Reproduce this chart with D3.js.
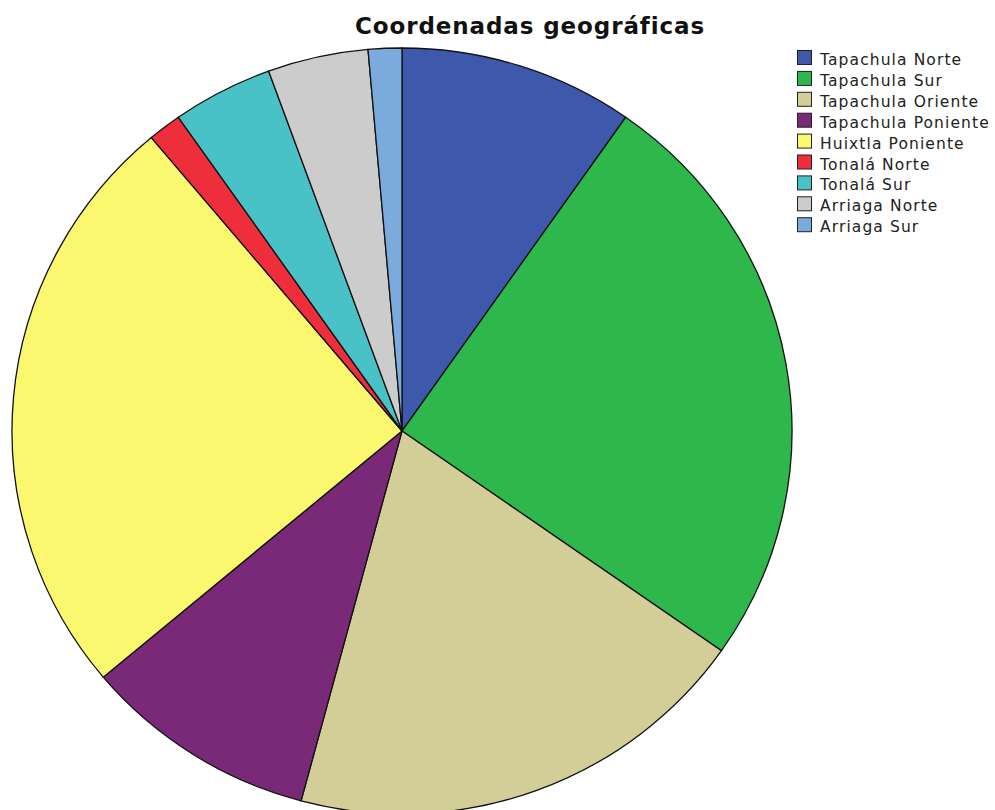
<!DOCTYPE html>
<html><head><meta charset="utf-8">
<script src="https://cdn.jsdelivr.net/npm/d3@7"></script>
<style>body{margin:0;background:#fff}svg{display:block}</style>
</head><body>
<svg id="c" width="995" height="810"></svg>
<script>
const categories = ["Tapachula Norte","Tapachula Sur","Tapachula Oriente","Tapachula Poniente","Huixtla Poniente","Tonalá Norte","Tonalá Sur","Arriaga Norte","Arriaga Sur"];
const counts = [7,18,14,7,18,1,3,3,1];
const colors = ["#3e58ac","#2eb84b","#d3ce98","#7a2878","#fbf76f","#ee2e3a","#48c1c7","#cccccc","#7babdc"];
const title = "Coordenadas geográficas";

const svg = d3.select("#c");
const cx = 402, cy = 431, rx = 390, ry = 383;
const pie = d3.pie().sort(null).value(d => d)(counts);
const arc = d3.arc().innerRadius(0).outerRadius(rx);
const g = svg.append("g").attr("transform", `translate(${cx},${cy}) scale(1,${ry/rx})`);
g.selectAll("path").data(pie).join("path")
  .attr("d", arc)
  .attr("fill", (d,i) => colors[i])
  .attr("stroke", "#111")
  .attr("stroke-width", 1.3)
  .attr("vector-effect", "non-scaling-stroke");

svg.append("text").attr("x", 530).attr("y", 34).attr("text-anchor","middle")
  .attr("font-family","DejaVu Sans").attr("font-weight","bold").attr("font-size",23)
  .attr("letter-spacing",0.9)
  .attr("fill","#111").text(title);

const lg = svg.append("g").attr("transform","translate(797,50)");
const rowH = 20.9;
const rows = lg.selectAll("g").data(categories).join("g")
  .attr("transform",(d,i)=>`translate(0,${i*rowH})`);
rows.append("rect").attr("x",0.5).attr("y",0.5).attr("width",14).attr("height",14)
  .attr("fill",(d,i)=>colors[i]).attr("stroke","#222").attr("stroke-width",1);
rows.append("text").attr("x",23).attr("y",15)
  .attr("font-family","DejaVu Sans").attr("font-size",15.5).attr("letter-spacing",1.1)
  .attr("fill","#222").text(d=>d);
</script>
</body></html>
